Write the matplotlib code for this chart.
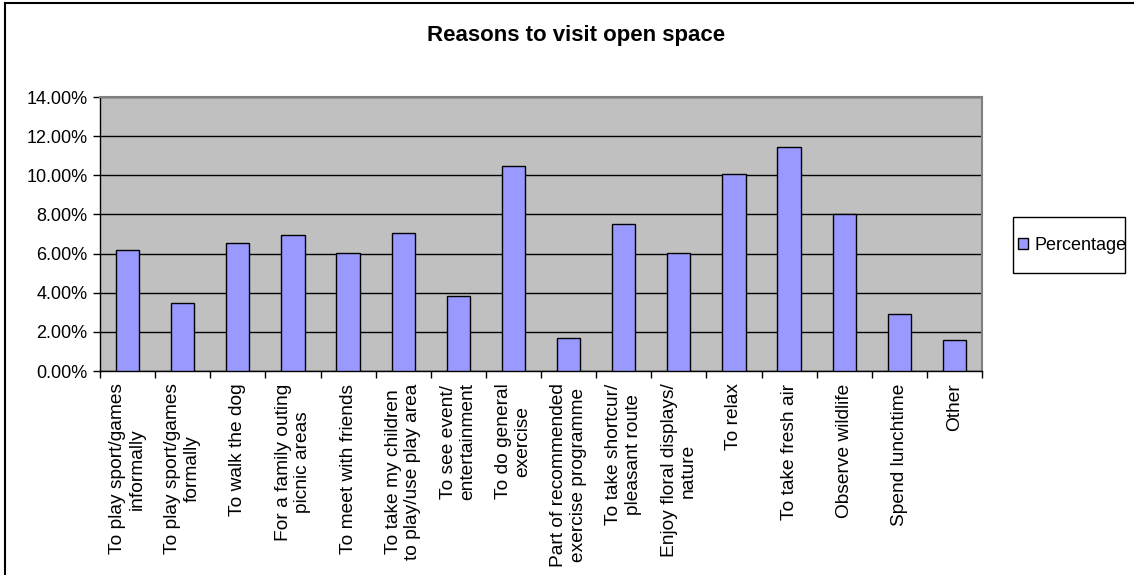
import matplotlib
matplotlib.use("Agg")
import matplotlib.pyplot as plt
from matplotlib.lines import Line2D
from matplotlib.patches import Rectangle
from matplotlib.ticker import FuncFormatter
import numpy as np

plt.rcParams['font.family'] = ['Liberation Sans', 'DejaVu Sans']

reasons = ["To play sport/games\ninformally", "To play sport/games\nformally",
           "To walk the dog", "For a family outing\npicnic areas",
           "To meet with friends", "To take my children\nto play/use play area",
           "To see event/\nentertainment", "To do general\nexercise",
           "Part of recommended\nexercise programme", "To take shortcur/\npleasant route",
           "Enjoy floral displays/\nnature", "To relax", "To take fresh air",
           "Observe wildlife", "Spend lunchtime", "Other"]
percentage = [6.17, 3.49, 6.52, 6.97, 6.01, 7.03, 3.83, 10.49,
              1.67, 7.53, 6.01, 10.07, 11.45, 8.04, 2.90, 1.60]

W, H = 1134, 575
fig = plt.figure(figsize=(W / 100, H / 100), dpi=100)
ax = fig.add_axes([100 / W, 1 - 371 / H, (982 - 100) / W, (371 - 97) / H])

x = np.arange(len(reasons))
ax.set_facecolor('#c0c0c0')
ax.bar(x, percentage, width=0.42, color='#9999ff', edgecolor='black',
       linewidth=1, zorder=3, label='Percentage')

ax.set_xlim(-0.5, len(reasons) - 0.5)
ax.set_ylim(0, 14)
ax.set_yticks(np.arange(0, 14.1, 2))
ax.yaxis.set_major_formatter(FuncFormatter(lambda v, p: '%.2f%%' % v))
ax.grid(axis='y', color='black', linewidth=1, zorder=1)

ax.set_xticks(x)
ax.set_xticklabels(reasons, rotation=90, ha='center', va='top',
                   multialignment='center', fontsize=13.8, linespacing=1.2)
ax.set_xticks(np.arange(-0.5, len(reasons), 1), minor=True)
ax.tick_params(axis='x', which='major', length=0, pad=9)
ax.tick_params(axis='x', which='minor', length=5, width=1, color='black')
ax.tick_params(axis='y', length=5, width=1, labelsize=13, pad=4)

for side in ['left', 'bottom']:
    ax.spines[side].set_color('black')
    ax.spines[side].set_linewidth(1)
for side in ['top', 'right']:
    ax.spines[side].set_color('#808080')
    ax.spines[side].set_linewidth(1.5)

fig.text(576 / W, 1 - 36 / H, 'Reasons to visit open space', ha='center',
         va='center', fontsize=16, fontweight='bold')

# legend box drawn separately so it keeps the reference's size
fig.add_artist(Rectangle((1013 / W, 1 - 273 / H), 112 / W, 56 / H,
                         transform=fig.transFigure, facecolor='white',
                         edgecolor='black', linewidth=1))
leg = fig.legend(loc='center left', bbox_to_anchor=(1018 / W, 1 - 245 / H),
                 fontsize=13, frameon=False, handlelength=0.55,
                 handleheight=0.55, handletextpad=0.35, borderpad=0,
                 borderaxespad=0)

# outer chart border (only top and left fall inside the picture)
fig.add_artist(Line2D([5 / W, 5 / W], [0, 1 - 2.5 / H], color='black',
                      linewidth=1.5, transform=fig.transFigure))
fig.add_artist(Line2D([5 / W, 1], [1 - 2.5 / H, 1 - 2.5 / H], color='black',
                      linewidth=1.5, transform=fig.transFigure))

fig.savefig('out.png', dpi=100)
